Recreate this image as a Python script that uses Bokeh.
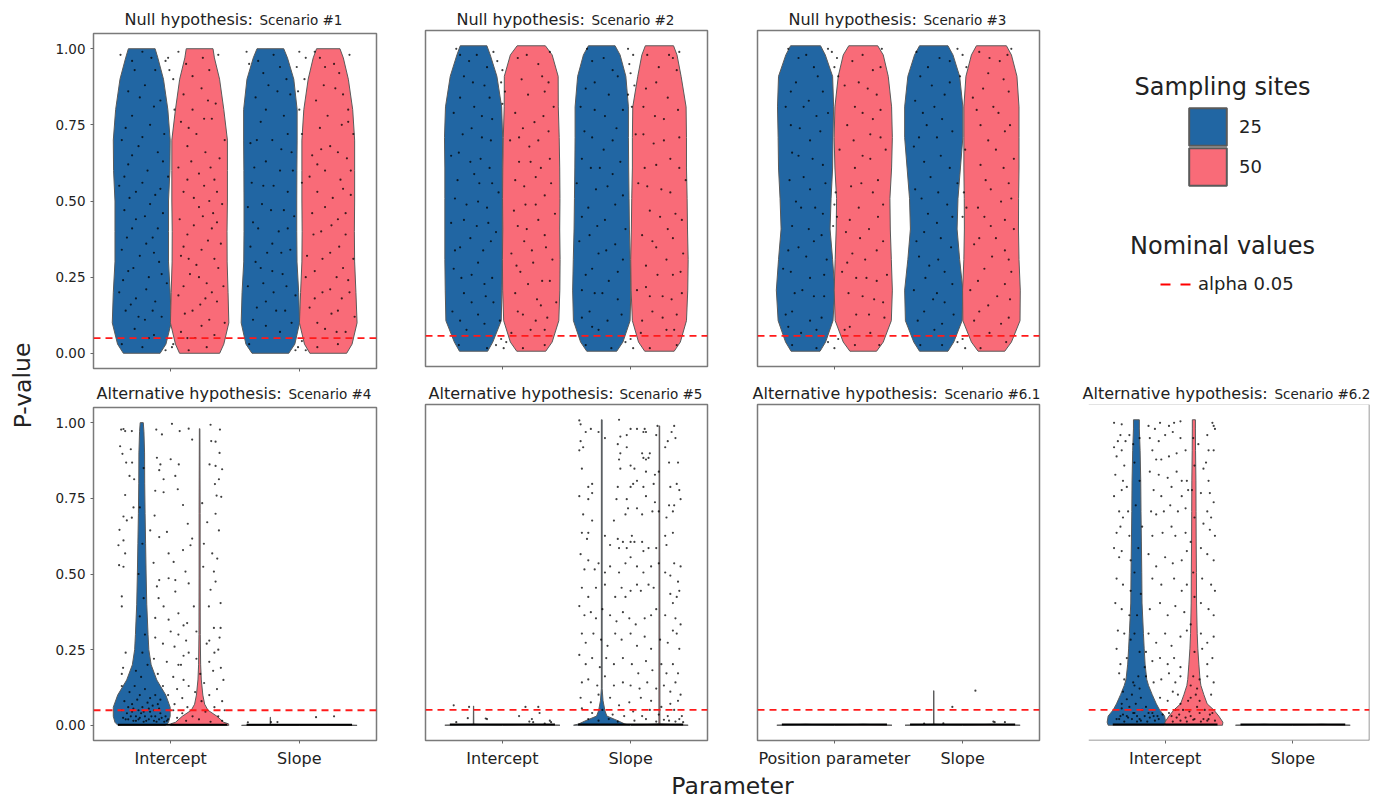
from bokeh.embed import file_html
from bokeh.resources import INLINE
from bokeh.plotting import figure
from bokeh.layouts import row, column
from bokeh.models import (Range1d, Label, Span, FixedTicker, Legend, LegendItem, ColumnDataSource)

BLUE = "#2166a3"
RED = "#f96b78"
EDGE = "#5a5a5a"
ALPHA = 0.05
TICKS_Y = [0.0, 0.25, 0.5, 0.75, 1.0]

# Probability grid shared by the null-hypothesis violins
P_NULL = [0, .03, .1, .2, .3, .4, .5, .6, .7, .8, .9, .97, 1]

S1_B1 = [.143, .188, .229, .221, .208, .208, .208, .219, .221, .203, .169, .125, .104]
S1_R1 = [.156, .188, .227, .221, .214, .213, .216, .216, .216, .188, .155, .115, .104]
S1_B2 = [.143, .190, .227, .220, .207, .205, .205, .206, .208, .208, .182, .133, .104]
S1_R2 = [.143, .185, .224, .215, .205, .203, .205, .205, .205, .190, .156, .117, .091]

S2_B1 = [.110, .150, .216, .221, .224, .224, .224, .224, .227, .219, .182, .130, .104]
S2_R1 = [.113, .163, .215, .223, .225, .222, .224, .222, .218, .211, .210, .163, .110]
S2_B2 = [.117, .165, .221, .227, .222, .216, .213, .210, .208, .208, .188, .143, .104]
S2_R2 = [.115, .163, .211, .221, .224, .219, .216, .211, .211, .208, .169, .137, .110]

S3_B1 = [.113, .156, .214, .228, .211, .191, .199, .211, .214, .219, .211, .154, .117]
S3_R1 = [.104, .156, .219, .227, .219, .211, .208, .221, .227, .221, .195, .156, .113]
S3_B2 = [.111, .156, .221, .227, .202, .182, .189, .208, .227, .227, .202, .150, .111]
S3_R2 = [.104, .156, .223, .225, .215, .211, .212, .215, .215, .215, .199, .156, .117]

# Alternative-hypothesis violins
P_ALT = [0, .01, .03, .06, .1, .15, .2, .25, .3, .4, .5, .6, .7, .8, .9, .97, 1]
S4_B1 = [.185, .208, .221, .221, .187, .117, .073, .055, .049, .039, .034, .030, .026, .023, .022, .017, .012]
P_ALT_R = [0, .005, .01, .03, .05, .07, .1, .15, .2, .3, .5, .7, .98]
S4_R1 = [.227, .225, .188, .135, .065, .039, .025, .013, .008, .005, .004, .004, .002]

P_72 = [0, .01, .03, .05, .07, .1, .13, .15, .2, .25, .3, .4, .5, .6, .7, .8, .9, .97, 1]
S7_B1 = [.221, .229, .221, .182, .156, .124, .095, .081, .068, .061, .055, .044, .042, .039, .036, .034, .029, .023, .023]
S7_R1 = [.224, .227, .195, .156, .104, .078, .055, .048, .039, .031, .026, .021, .020, .018, .017, .016, .013, .012, .012]

P_S5 = [0, .004, .014, .03, .047, .08, .12, 1]
S5_B2 = [.220, .180, .130, .040, .025, .010, .003, .003]
P_THIN = [0, .004, .98]
S5_R2 = [.224, .004, .002]

P_SPIKE_A = [0, .003, .063]
SPIKE_A = [.224, .002, .001]
P_SPIKE_B = [0, .003, .113]
SPIKE_B = [.224, .002, .001]
P_SPIKE_C = [0, .003, .027]
SPIKE_C = [.224, .002, .001]
P_FLAT = [0, .003]
FLAT = [.224, .0]

# Jittered p-values: (offset from the parameter tick, p-value)
S1_A = [(-.39,.98),(-.22,.99),(-.02,.97),(-.01,.93),(.02,.9),(-.04,.96),(.06,.99),(.37,.98),(-.3,.96),(-.12,.93),(.12,.95),(.3,.93),
(-.33,.86),(-.2,.88),(-.08,.83),(.03,.8),(.1,.85),(.24,.87),(.35,.82),(-.3,.78),(-.16,.75),(-.05,.72),(.08,.76),(.2,.72),(.32,.77),(.42,.7),
(-.38,.7),(-.25,.68),(-.1,.66),(.13,.68),(.27,.66),(.38,.64),(-.33,.62),(-.18,.6),(-.02,.58),(.06,.61),(.22,.59),(.34,.57),(-.4,.55),(-.27,.53),
(-.12,.52),(.1,.53),(.18,.51),(.3,.5),(.4,.49),(-.36,.47),(-.2,.45),(-.06,.46),(.07,.44),(.25,.45),(.36,.43),(-.3,.41),(-.14,.38),(.13,.39),
(.29,.37),(.39,.36),(-.38,.34),(-.24,.32),(-.09,.3),(.08,.32),(.2,.29),(.34,.31),(-.33,.27),(-.17,.25),(-.03,.23),(.15,.26),(.28,.23),(.41,.22),
(-.4,.2),(-.27,.18),(-.12,.17),(.06,.19),(.23,.16),(.36,.17),(-.35,.14),(-.2,.11),(-.07,.12),(.11,.13),(.3,.11),(.42,.1),(-.28,.08),(-.13,.06),
(.02,.03),(.08,.07),(.19,.05),(.34,.06),(-.38,.03),(-.22,.02),(-.04,.01),(.01,.02),(.14,.01),(.28,.02),
(-.28,.93),(-.15,.97),(.17,.91),(.25,.97),(-.24,.84),(-.13,.81),(.17,.8),(.29,.83),(-.35,.74),(-.22,.71),(.14,.74),(.26,.77),(-.3,.65),(-.06,.63),(.16,.63),(.31,.61),
(-.36,.58),(-.22,.56),(-.08,.54),(.13,.57),(.26,.55),(.36,.53),(-.32,.51),(-.16,.49),(.22,.48),(.33,.46),(-.27,.44),(-.1,.41),(.18,.42),(.32,.41),(-.34,.38),(-.19,.36),
(.1,.35),(.24,.34),(-.13,.33),(.14,.31),(.37,.28),(-.29,.28),(-.07,.26),(.22,.25),(-.37,.24),(-.19,.21),(.1,.22),(.32,.2),(-.31,.16),(-.14,.14),(.17,.14),(.27,.18),(-.25,.12),(.24,.09),(-.17,.05),(.13,.05)]
S1_C = [(-.41,.99),(-.39,.95),(-.2,.98),(.0,.99),(.05,.97),(-.02,.94),(.04,.9),(-.01,.86),(.39,.98),(.12,.99),(-.28,.92),(-.1,.9),(.2,.94),(.31,.92),
(-.34,.84),(-.17,.86),(.0,.8),(.13,.83),(.28,.87),(.38,.8),(-.3,.76),(-.12,.78),(.02,.72),(.16,.74),(.33,.75),(.42,.72),(-.38,.69),(-.21,.7),(-.06,.66),
(.1,.65),(.24,.68),(.37,.64),(-.35,.61),(-.15,.6),(.08,.58),(.2,.6),(.32,.57),(-.28,.55),(-.09,.53),(.14,.53),(.26,.51),(.4,.52),(-.4,.48),(-.22,.47),
(-.04,.45),(.1,.46),(.3,.44),(-.32,.41),(-.16,.4),(.17,.4),(.36,.39),(-.38,.35),(-.25,.33),(-.07,.34),(.06,.32),(.24,.33),(.42,.31),(-.3,.28),(-.13,.26),
(.12,.27),(.29,.25),(.38,.24),(-.4,.22),(-.2,.2),(-.03,.19),(.18,.2),(.33,.18),(-.33,.15),(-.11,.14),(.08,.15),(.25,.13),(.43,.12),(-.26,.09),(-.15,.07),
(.2,.08),(.36,.07),(-.39,.03),(-.01,.02),(.02,.04),(-.03,.01),(.14,.02),(.3,.03),(.05,.01),
(-.32,.96),(-.15,.94),(.16,.97),(.27,.95),(-.24,.88),(-.07,.85),(.19,.88),(.34,.85),(-.26,.8),(-.09,.72),(.22,.78),(.38,.76),(-.33,.7),(-.14,.67),(.17,.67),(.3,.66),
(-.26,.63),(-.05,.6),(.14,.62),(.4,.6),(-.37,.56),(-.2,.55),(.02,.56),(.34,.54),(-.29,.49),(-.12,.47),(.2,.48),(.36,.46),(-.36,.43),(-.09,.41),(.25,.42),(.11,.39),
(-.21,.36),(-.14,.33),(.31,.35),(.18,.31),(-.34,.3),(-.21,.27),(.05,.25),(.34,.28),(-.28,.23),(-.1,.22),(.24,.21),(.39,.2),(-.26,.17),(-.18,.14),(.12,.18),(.3,.14),(-.36,.11),(-.06,.1),(.14,.1),(.29,.07)]
S2_A = [(-.36,.99),(-.33,.97),(-.07,.98),(-.04,.95),(.0,.92),(-.01,.88),(.02,.85),(.0,.81),(.37,.98),(-.2,.97),(.12,.96),(.28,.94),(-.3,.9),(-.14,.87),
(.15,.89),(.33,.85),(-.38,.78),(-.22,.8),(-.08,.76),(.1,.78),(.25,.75),(.4,.8),(-.31,.71),(-.16,.7),(.06,.69),(.21,.67),(.36,.72),(-.4,.64),(-.25,.62),
(-.1,.6),(.13,.62),(.3,.6),(-.35,.56),(-.18,.55),(-.03,.52),(.17,.54),(.38,.55),(-.28,.48),(-.12,.47),(.09,.46),(.26,.48),(.41,.45),(-.4,.42),(-.2,.41),
(-.05,.39),(.19,.4),(.33,.38),(-.33,.34),(-.15,.33),(.07,.32),(.23,.33),(.39,.3),(-.38,.27),(-.24,.25),(-.08,.24),(.14,.26),(.31,.23),(-.3,.19),(-.13,.18),
(.1,.19),(.27,.17),(.42,.16),(-.39,.13),(-.19,.12),(-.02,.1),(.16,.12),(.35,.11),(-.28,.07),(.07,.06),(.22,.07),(-.34,.02),(-.05,.02),(-.01,.04),(.01,.01),
(.03,.03),(.33,.02),(-.12,.01),(.16,.01),
(-.26,.95),(-.12,.93),(.19,.97),(.31,.9),(-.23,.88),(-.1,.83),(.2,.84),(.36,.88),(-.33,.83),(-.16,.77),(.16,.73),(.32,.77),(-.24,.73),(-.09,.69),(.13,.7),(.28,.69),
(-.34,.65),(-.17,.63),(.22,.62),(.37,.63),(-.22,.58),(-.08,.55),(.26,.57),(.1,.56),(-.37,.5),(-.19,.49),(.18,.48),(.33,.51),(-.3,.43),(-.11,.42),(.12,.41),(.28,.43),
(-.25,.37),(-.09,.36),(.17,.36),(.34,.34),(-.37,.33),(-.19,.29),(.24,.29),(.11,.28),(-.32,.24),(-.14,.22),(.2,.22),(.37,.23),(-.24,.16),(-.07,.16),(.3,.15),(.12,.13),(-.33,.1),(-.14,.09),(.26,.1),(.33,.07)]
S2_C = [(-.34,.99),(-.02,.99),(.02,.97),(-.01,.94),(.0,.91),(.03,.87),(-.02,.84),(.01,.8),(.38,.98),(.33,.96),(-.21,.96),(.13,.97),(-.28,.88),(-.1,.9),
(.2,.88),(.36,.92),(-.39,.8),(-.2,.77),(-.06,.79),(.1,.8),(.26,.76),(-.3,.7),(-.14,.69),(.04,.71),(.18,.68),(.38,.7),(-.38,.63),(-.24,.6),(-.08,.62),(.11,.6),
(.31,.63),(-.42,.55),(-.18,.54),(.06,.55),(.24,.53),(.43,.56),(-.33,.47),(-.12,.48),(.15,.46),(.35,.45),(-.26,.41),(-.04,.4),(.09,.38),(.29,.4),(-.4,.36),
(-.19,.33),(.2,.34),(.41,.32),(-.3,.27),(-.1,.26),(.12,.28),(.33,.25),(-.38,.2),(-.22,.19),(.05,.2),(.25,.18),(.4,.19),(-.32,.13),(-.07,.12),(.17,.13),(.36,.12),
(-.25,.07),(.08,.06),(.28,.07),(-.04,.03),(.02,.01),(.0,.04),(-.35,.02),(.36,.02),(.15,.01),(-.15,.01),
(-.3,.95),(-.14,.92),(.22,.93),(.3,.97),(-.35,.86),(-.17,.84),(.12,.86),(.29,.83),(-.28,.79),(-.11,.73),(.19,.77),(.37,.79),(-.36,.72),(-.21,.66),(.26,.69),(.1,.71),
(-.31,.6),(-.14,.58),(.2,.61),(.38,.6),(-.27,.53),(-.06,.51),(.13,.54),(.31,.52),(-.38,.44),(-.2,.43),(.23,.44),(.4,.43),(-.32,.38),(-.12,.35),(.17,.36),(.33,.37),
(-.25,.32),(-.06,.3),(.28,.3),(.12,.21),(-.35,.25),(-.17,.23),(.21,.25),(.39,.26),(-.28,.19),(-.1,.17),(.32,.17),(.15,.18),(-.38,.11),(-.18,.1),(.25,.11),(.09,.1),(-.3,.08),(.34,.07)]
S3_A = [(-.36,.99),(-.02,.98),(.02,.96),(.0,.93),(.03,.9),(-.05,.99),(.37,.99),(-.22,.97),(.14,.95),(.3,.92),(-.3,.88),(-.13,.9),(.08,.87),(.26,.86),
(-.38,.8),(-.2,.82),(-.05,.78),(.16,.8),(.36,.79),(-.27,.73),(-.11,.72),(.1,.74),(.28,.71),(-.33,.65),(-.17,.63),(.04,.66),(.22,.64),(.4,.66),(-.24,.57),
(-.07,.55),(.01,.52),(.0,.48),(.02,.44),(-.01,.41),(.13,.54),(.34,.56),(-.3,.49),(-.15,.47),(.19,.47),(.38,.48),(-.2,.4),(-.1,.38),(.09,.39),(.27,.4),(-.36,.33),
(-.22,.31),(.14,.32),(.33,.33),(-.4,.27),(-.08,.25),(.06,.26),(.25,.24),(.41,.25),(-.31,.19),(-.16,.18),(.11,.19),(.31,.17),(-.38,.12),(-.1,.11),(.17,.12),(.39,.11),
(-.26,.06),(.08,.07),(.28,.06),(-.33,.02),(-.05,.03),(.0,.01),(.03,.04),(.35,.02),(-.14,.01),(.16,.02),
(-.28,.96),(-.16,.93),(.22,.97),(.36,.93),(-.34,.85),(-.09,.85),(.19,.88),(.33,.84),(-.24,.8),(-.14,.77),(.22,.78),(.3,.76),(-.34,.74),(-.19,.69),(.15,.69),(.36,.7),
(-.28,.64),(-.09,.61),(.28,.63),(.16,.6),(-.35,.56),(-.19,.53),(.21,.55),(.3,.52),(-.26,.47),(-.09,.45),(.12,.43),(.34,.44),(-.33,.41),(-.16,.36),(.2,.37),(.38,.36),
(-.28,.34),(-.06,.3),(.24,.3),(.1,.29),(-.34,.26),(-.19,.24),(.17,.24),(.33,.23),(-.25,.2),(-.08,.18),(.22,.18),(.38,.16),(-.33,.13),(-.19,.1),(.27,.12),(.12,.08),(-.36,.08),(-.14,.07)]
S3_C = [(-.36,.98),(-.04,.99),(.0,.97),(.03,.93),(-.02,.9),(.38,.99),(.35,.97),(-.18,.96),(.13,.98),(.29,.95),(-.33,.9),(-.1,.88),(.2,.91),(-.37,.82),(-.22,.8),
(.08,.83),(.24,.8),(-.28,.74),(-.08,.72),(.14,.74),(.33,.72),(-.38,.67),(-.17,.64),(.02,.66),(.26,.66),(.4,.63),(-.25,.57),(-.04,.55),(.01,.52),(.03,.47),(.0,.44),
(.18,.56),(.36,.55),(-.32,.5),(-.12,.48),(.12,.47),(.3,.49),(-.2,.42),(.22,.41),(.4,.4),(-.36,.36),(-.09,.34),(.09,.35),(.33,.33),(-.26,.28),(-.14,.26),(.17,.27),
(.38,.26),(-.38,.2),(-.2,.19),(.06,.2),(.27,.18),(-.3,.13),(-.07,.12),(.13,.13),(.36,.11),(-.22,.07),(.21,.06),(-.04,.03),(.02,.01),(.0,.04),(-.33,.02),(.34,.03),(.14,.01),(-.16,.02),
(-.27,.93),(-.1,.95),(.21,.96),(.32,.89),(-.24,.87),(-.14,.84),(.16,.86),(.36,.85),(-.31,.78),(-.16,.76),(.28,.78),(.11,.79),(-.34,.7),(-.2,.7),(.2,.69),(.37,.74),
(-.3,.62),(-.1,.6),(.14,.61),(.32,.6),(-.37,.53),(-.19,.52),(.22,.53),(.38,.5),(-.27,.45),(-.08,.44),(.17,.44),(.33,.43),(-.3,.39),(-.17,.37),(.26,.37),(.13,.37),
(-.34,.31),(-.19,.3),(.23,.31),(.36,.3),(-.29,.24),(-.08,.22),(.12,.23),(.33,.22),(-.23,.17),(-.14,.16),(.2,.15),(.37,.17),(-.35,.1),(-.16,.09),(.3,.09),(.09,.1)]

S4_A = [(-.385,.977),(-.367,.979),(-.354,.972),(-.302,.972),(-.112,.977),(-.068,.961),(.01,.996),(.07,.972),(.14,.98),(.31,.993),(.383,.977),(.167,.944),(.315,.939),(.349,.937),
(-.393,.922),(-.31,.912),(-.375,.897),(.38,.9),(-.107,.884),(0,.879),(-.08,.862),(.063,.862),(-.346,.868),(-.3,.868),(.4,.846),(.349,.857),(.302,.862),(-.089,.843),(-.32,.824),
(-.284,.813),(-.055,.813),(.036,.824),(.375,.813),(.344,.797),(-.12,.775),(.055,.78),(-.055,.77),(-.354,.761),(.357,.759),(.393,.755),(.245,.734),(-.289,.72),(.096,.728),(-.125,.693),
(-.367,.69),(-.302,.686),(-.341,.677),(.133,.666),(.284,.671),(.349,.699),(-.398,.646),(.375,.644),(-.159,.644),(-.029,.639),(-.089,.622),(-.367,.611),(.167,.617),(.096,.579),(.154,.595),
(.258,.6),(-.016,.568),(-.406,.595),(.023,.54),(-.133,.537),(-.354,.568),(.323,.568),(.362,.551),(-.401,.529),(-.367,.524),(.253,.524),(.336,.508),(.115,.508),(-.016,.486),(.036,.48),
(-.089,.48),(.14,.469),(.349,.475),(-.107,.459),(.036,.442),(.31,.448),(-.38,.426),(-.094,.42),(.388,.404),(.297,.393),(.18,.393),(-.38,.393),(-.055,.393),(-.12,.355),(-.016,.349),
(.128,.338),(.336,.322),(.388,.322),(-.12,.29),(.0,.31),(.06,.3),(.2,.31),(-.06,.27),(.03,.26),(.12,.28),(.28,.27),(.37,.25),(-.35,.24),(-.37,.19),(-.13,.22),(-.03,.21),(.08,.2),(.2,.22),
(.3,.21),(.39,.19),(-.38,.17),(-.1,.17),(.02,.16),(.1,.15),(.23,.17),(.33,.18),(.41,.15),(-.06,.13),(.05,.12),(.14,.13),(.26,.14),(.36,.12),(-.02,.1),(.09,.09),(.19,.11),(.3,.1),(.4,.08),
(-.08,.085),(.03,.07),(.13,.06),(.24,.08),(.34,.06),(.42,.05),(.02,.05),(.09,.04),(.17,.03),(.27,.045),(.37,.03),(.05,.025),(.12,.015),(.22,.02),(.31,.012),(.4,.015),
(-.38,.13),(-.32,.11),(-.28,.13),(-.24,.1),(-.2,.12),(-.16,.09),(-.12,.1),(-.36,.08),(-.3,.07),(-.26,.085),(-.22,.06),(-.18,.075),(-.14,.065),(-.1,.07),(-.38,.05),(-.34,.04),(-.3,.045),
(-.27,.03),(-.23,.04),(-.2,.03),(-.16,.045),(-.12,.03),(-.08,.04),(-.04,.03),(-.37,.025),(-.33,.02),(-.29,.015),(-.25,.02),(-.21,.012),(-.17,.02),(-.13,.015),(-.09,.02),(-.05,.012),(-.02,.02),
(-.35,.02),(-.31,.03),(-.27,.015),(-.24,.025),(-.19,.015),(-.15,.03),(-.11,.012),(-.07,.025),(-.03,.015),(-.33,.06),(-.29,.055),(-.25,.05),(-.21,.045),(-.17,.055),(-.13,.05),(-.09,.055),
(-.23,.16),(-.18,.2),(-.22,.24),(-.27,.18),(-.2,.3),(-.24,.36),(-.21,.42),(-.25,.5),(-.22,.6),(-.24,.72),(-.21,.85),(.14,.24),(.06,.2),(.1,.23),(.06,.37),(.1,.33),(.3,.28),(.34,.24),(.38,.29)]
S4_C = [(-.4,.01),(-.22,.011),(-.17,.011),(.13,.027),(.27,.03)]

S5_A = [(-.38,.065),(-.26,.06),(-.27,.023),(-.36,.01),(-.12,.02),(-.13,.022),(.18,.06),(.28,.06),(.13,.03),(.23,.02),(.29,.04),(.24,.01),(.37,.015),(.38,.01),(.33,.005),(.21,.012)]
S5_C = [(-.4,.998),(-.09,1.0),(-.39,.985),(-.35,.96),(-.31,.97),(-.25,.96),(-.2,.94),(-.39,.93),(-.37,.91),(-.08,.945),(-.03,.95),(.0,.97),(-.03,.91),(.05,.97),(.1,.96),(.11,.97),(.12,.96),
(.21,.98),(.34,.98),(.32,.96),(.29,.93),(.2,.95),(.27,.91),(.35,.94),(-.1,.92),(-.4,.9),(-.09,.87),(-.08,.89),(.15,.89),(.14,.875),(.12,.87),(.1,.875),(.09,.89),(.3,.86),(.37,.86),(-.38,.84),
(-.08,.84),(.03,.84),(.0,.85),(.05,.8),(.12,.83),(.19,.82),(.22,.83),(-.33,.78),(-.3,.79),(-.1,.78),(.0,.78),(.02,.79),(.1,.78),(.18,.79),(.31,.78),(.36,.79),(.38,.77),(-.4,.75),(-.33,.74),
(-.3,.76),(-.11,.74),(-.03,.74),(.12,.75),(.19,.73),(.3,.72),(.39,.74),(.34,.72),(-.37,.69),(-.3,.67),(-.13,.67),(-.04,.69),(-.02,.71),(.05,.71),(.09,.69),(.17,.7),(.22,.7),(.28,.68),(.33,.7),
(-.38,.63),(-.34,.61),(-.33,.63),(-.2,.62),(-.16,.59),(-.1,.61),(-.06,.6),(-.09,.58),(-.03,.58),(.0,.6),(.01,.62),(.03,.6),(.09,.6),(.1,.57),(.14,.58),(.2,.58),(.27,.62),(.28,.59),(.33,.63),
(-.39,.56),(-.36,.51),(-.33,.54),(-.28,.51),(-.25,.53),(-.2,.5),(-.16,.52),(-.09,.5),(-.04,.53),(.0,.55),(.05,.52),(.1,.5),(.16,.52),(.22,.53),(.27,.5),(.31,.49),(.34,.53),(.37,.47),(.39,.52),
(-.38,.45),(-.33,.42),(-.27,.45),(-.2,.46),(-.12,.42),(-.07,.45),(-.04,.42),(.0,.44),(.05,.46),(.08,.44),(.14,.46),(.18,.45),(.31,.43),(.33,.4),(.36,.42),(.38,.44),(-.4,.39),(-.36,.36),(-.31,.37),
(-.27,.35),(-.22,.38),(-.16,.36),(-.11,.34),(-.06,.37),(-.01,.35),(.04,.33),(.11,.35),(.16,.36),(.2,.38),(.27,.36),(.33,.31),(.35,.35),(.39,.33),(-.38,.3),(-.35,.27),(-.29,.3),(-.23,.28),(-.18,.26),
(-.12,.3),(-.07,.28),(.0,.3),(.05,.26),(.11,.29),(.16,.25),(.23,.28),(.29,.27),(.36,.3),(.38,.25),(-.4,.23),(-.35,.2),(-.3,.22),(-.24,.19),(-.19,.22),(-.13,.2),(-.06,.22),(.01,.2),(.06,.17),(.12,.21),
(.17,.18),(.24,.2),(.28,.17),(.33,.2),(.37,.17),(-.38,.14),(-.33,.15),(-.26,.13),(-.2,.16),(-.13,.13),(-.06,.14),(.0,.13),(.07,.12),(.13,.14),(.2,.12),(.26,.13),(.31,.11),(.35,.14),(.39,.1),
(-.39,.09),(-.31,.075),(-.25,.1),(-.16,.09),(-.09,.065),(-.01,.075),(.08,.09),(.16,.08),(.24,.06),(.31,.07),(.37,.08),(-.38,.055),(-.3,.04),(-.22,.05),(-.14,.035),(-.05,.03),(.02,.045),(.09,.03),(.15,.05),
(.22,.035),(.29,.03),(.34,.05),(.4,.03),(-.33,.02),(-.25,.015),(-.17,.02),(-.1,.012),(.03,.015),(.12,.02),(.2,.012),(.26,.018),(.3,.015),(.35,.012),(.38,.02),(.41,.01)]

S6_C = [(.1,.113),(-.08,.06),(.25,.01),(.24,.012),(.33,.01),(-.3,.005),(-.15,.006)]

S7_A = [(-.4,.99),(-.34,.985),(-.35,.95),(-.37,.93),(-.31,.93),(-.28,.95),(-.4,.91),(-.34,.9),(-.25,.92),(-.13,.98),(-.08,.97),(-.04,.99),(.03,.98),(.07,.99),(.12,.995),(.37,.99),(.39,.97),(.38,.98),(.33,.95),
(-.12,.94),(-.05,.93),(.0,.95),(.06,.96),(.12,.94),(.26,.92),(.34,.9),(.38,.9),(-.38,.88),(-.32,.85),(-.1,.9),(-.07,.87),(-.03,.87),(.03,.88),(.09,.89),(.16,.9),(.32,.86),(-.39,.82),(-.33,.8),(-.3,.78),
(-.12,.83),(-.05,.82),(.02,.81),(.09,.83),(.13,.8),(.17,.8),(.3,.84),(.34,.8),(-.4,.75),(-.34,.77),(-.09,.77),(-.03,.75),(.05,.78),(.13,.75),(.18,.77),(.28,.76),(.35,.76),(.38,.73),(-.36,.7),(-.33,.68),
(-.29,.7),(-.11,.7),(-.07,.69),(-.01,.7),(.04,.72),(.1,.7),(.16,.71),(.33,.7),(.36,.68),(-.38,.63),(-.35,.65),(-.28,.62),(-.1,.62),(-.02,.63),(.05,.65),(.08,.62),(.16,.63),(.3,.66),(.35,.64),(.39,.62),
(-.4,.58),(-.36,.55),(-.34,.57),(-.27,.54),(-.13,.56),(-.07,.52),(.0,.55),(.06,.53),(.13,.54),(.17,.57),(.28,.58),(.33,.56),(.38,.54),(-.38,.48),(-.33,.46),(-.27,.44),(-.1,.48),(-.03,.46),(.07,.48),(.13,.44),
(.17,.46),(.29,.48),(.36,.46),(.39,.44),(-.39,.4),(-.34,.38),(-.28,.36),(-.12,.38),(-.04,.4),(.02,.36),(.08,.39),(.15,.37),(.28,.4),(.34,.38),(.38,.36),(-.37,.31),(-.32,.3),(-.27,.28),(-.13,.3),(-.07,.27),
(.0,.3),(.05,.26),(.12,.29),(.17,.31),(.28,.3),(.33,.27),(.38,.29),(-.38,.25),(-.35,.2),(-.3,.22),(-.15,.24),(-.1,.21),(-.04,.22),(.02,.2),(.07,.22),(.12,.19),(.29,.25),(.33,.2),(.37,.22),(-.36,.17),(-.32,.15),
(-.25,.14),(-.15,.16),(-.09,.14),(-.03,.15),(.03,.17),(.08,.14),(.12,.16),(.27,.15),(.33,.16),(.38,.14),(-.33,.11),(-.04,.09),(.02,.08),(.06,.11),(.1,.1),(.36,.1),
(-.34,.07),(-.3,.085),(-.26,.1),(-.2,.12),(-.16,.19),(-.2,.24),(-.24,.3),(-.22,.36),(-.19,.43),(-.24,.5),(-.21,.58),(-.18,.65),(-.23,.72),(-.2,.8),(-.24,.86),(-.2,.94),(-.24,.04),(-.3,.03),(-.35,.03),(-.2,.02),
(-.15,.06),(-.1,.04),(-.06,.03),(-.12,.025),(-.18,.05),(-.26,.02),(-.32,.012),(-.38,.02),(-.14,.012),(-.08,.015),(-.22,.012),(.03,.04),(.09,.025),(.14,.05),(.2,.03),(.25,.06),(.3,.02),(.35,.035),(.39,.015),(.06,.012),
(.12,.015),(.17,.012),(.22,.018),(.28,.012),(.33,.015),(.2,.09),(.22,.16),(.23,.24),(.2,.33),(.23,.42),(.22,.5),(.2,.6),(.23,.68),(.21,.77),(.23,.85),(.22,.94),
(-.36,.02),(-.33,.035),(-.29,.025),(-.25,.04),(-.22,.03),(-.19,.015),(-.16,.03),(-.13,.04),(-.09,.03),(-.05,.02),(-.02,.035),(-.34,.055),(-.28,.06),(-.23,.07),(-.19,.09),(-.21,.16),(-.24,.13),
(.05,.03),(.08,.05),(.11,.035),(.16,.025),(.19,.045),(.23,.02),(.27,.04),(.31,.05),(.34,.02),(.37,.04),(.12,.07),(.18,.08),(.24,.1),(.27,.08),(.2,.13),(.25,.12)]

# Stacks of p-values at zero, drawn as a solid run: (start offset, end offset, p-value)
ZERO_P4 = [(-.41, .44, .002), (-.41, .41, .002)]
ZERO_P5 = [(-.41, .41, .002), (-.41, .41, .002)]
ZERO_P6 = [(-.41, .41, .002), (-.41, .41, .002)]
ZERO_P7 = [(-.41, .41, .002), (-.41, .41, .002)]

TICK_INTERCEPT = ["Intercept", "Slope"]
TICK_POSITION = ["Position parameter", "Slope"]
TITLE_NULL = "Null hypothesis:"
TITLE_ALT = "Alternative hypothesis:"
FONT = "DejaVu Sans"
TEXT = "#222222"


def panel(w, h, left, right, top, bottom, y_labels, x_labels):
    p = figure(width=w, height=h, x_range=Range1d(-.6, 1.6), y_range=Range1d(-.05, 1.05),
               output_backend="svg", toolbar_location=None, min_border_left=left, min_border_right=right,
               min_border_top=top, min_border_bottom=bottom)
    p.grid.visible = False
    p.outline_line_color = "#7a7a7a"
    p.outline_line_width = 1.5
    p.xaxis.ticker = FixedTicker(ticks=[0, 1])
    p.xaxis.major_label_overrides = {0: x_labels[0], 1: x_labels[1]} if x_labels else {0: "", 1: ""}
    p.xaxis.major_label_text_font = FONT
    p.xaxis.major_label_text_font_size = "16px"
    p.xaxis.major_label_text_color = TEXT
    p.xaxis.major_label_standoff = 5
    p.yaxis.ticker = FixedTicker(ticks=TICKS_Y)
    p.yaxis.major_label_overrides = {t: f"{t:.2f}" for t in TICKS_Y}
    p.yaxis.major_label_text_font = FONT
    p.yaxis.major_label_text_font_size = "13.5px"
    p.yaxis.major_label_text_color = TEXT
    p.yaxis.major_label_standoff = 5
    for ax in (p.xaxis, p.yaxis):
        ax.axis_line_color = None
        ax.minor_tick_line_color = None
        ax.major_tick_line_color = "#666666"
        ax.major_tick_in = 0
        ax.major_tick_out = 3
    if not y_labels:
        p.yaxis.visible = False
    return p


def violin(p, center, ps, hw, color):
    xs = [center - v for v in hw] + [center + v for v in reversed(hw)]
    ys = list(ps) + list(reversed(ps))
    p.patch(xs, ys, fill_color=color, line_color=EDGE, line_width=1)


def dots(p, tick, pts):
    p.scatter([tick + a for a, _ in pts], [b for _, b in pts], size=2.2, color="black", alpha=.75, line_color=None)


def zero_run(p, runs):
    for tick, (a, b, y) in enumerate(runs):
        p.segment([tick + a], [y], [tick + b], [y], line_color="black", line_width=2)


def alpha_line(p):
    p.add_layout(Span(location=ALPHA, dimension="width", line_color="#ff1a1a", line_width=1.8, line_dash="7 5"))


def strip(w, h):
    s = figure(width=w, height=h, x_range=Range1d(0, 1), y_range=Range1d(0, 1), output_backend="svg",
               toolbar_location=None, min_border=0, outline_line_color=None)
    s.axis.visible = False
    s.grid.visible = False
    return s


def titles(strip_fig, h, entries, y):
    for main, sub, main_x, sub_x in entries:
        for text, x, size in ((main, main_x, "16px"), (sub, sub_x, "13.5px")):
            strip_fig.add_layout(Label(x=x - 38, y=h - y, x_units="screen", y_units="screen", text=text,
                                       text_font=FONT, text_font_size=size, text_color=TEXT, text_baseline="middle"))


# ---- titles
top_titles = strip(1353, 29)
titles(top_titles, 29, [(TITLE_NULL, "Scenario #1", 124, 259), (TITLE_NULL, "Scenario #2", 456, 591),
                        (TITLE_NULL, "Scenario #3", 788, 923)], 19)
low_titles = strip(1353, 23)
titles(low_titles, 23, [(TITLE_ALT, "Scenario #4", 96, 288), (TITLE_ALT, "Scenario #5", 428, 619),
                        (TITLE_ALT, "Scenario #6.1", 752, 944), (TITLE_ALT, "Scenario #6.2", 1082, 1274)], 393 - 380)

# ---- top row
p1 = panel(362, 351, 55, 24, 4, 12, True, None)
violin(p1, -.225, P_NULL, S1_B1, BLUE); violin(p1, .225, P_NULL, S1_R1, RED)
violin(p1, .775, P_NULL, S1_B2, BLUE); violin(p1, 1.225, P_NULL, S1_R2, RED)
dots(p1, 0, S1_A); dots(p1, 1, S1_C); alpha_line(p1)

p2 = panel(332, 351, 25, 25, 1, 14, False, None)
violin(p2, -.225, P_NULL, S2_B1, BLUE); violin(p2, .225, P_NULL, S2_R1, RED)
violin(p2, .775, P_NULL, S2_B2, BLUE); violin(p2, 1.225, P_NULL, S2_R2, RED)
dots(p2, 0, S2_A); dots(p2, 1, S2_C); alpha_line(p2)

p3 = panel(332, 351, 25, 25, 1, 14, False, None)
violin(p3, -.225, P_NULL, S3_B1, BLUE); violin(p3, .225, P_NULL, S3_R1, RED)
violin(p3, .775, P_NULL, S3_B2, BLUE); violin(p3, 1.225, P_NULL, S3_R2, RED)
dots(p3, 0, S3_A); dots(p3, 1, S3_C); alpha_line(p3)

# ---- legends
lg = strip(319, 351)
off_line = ColumnDataSource(dict(x=[5, 6], y=[5, 6]))
q25 = lg.patch(x=[5, 6, 6], y=[5, 5, 6], fill_color=BLUE, line_color=EDGE, line_width=2)
q50 = lg.patch(x=[5, 6, 6], y=[5, 5, 6], fill_color=RED, line_color=EDGE, line_width=2)
dash = lg.line(x="x", y="y", source=off_line, line_color="#ff0000", line_width=2, line_dash="10 10")
common = dict(padding=0, margin=0, label_text_font=FONT, label_text_font_size="18px", label_text_color=TEXT,
              background_fill_alpha=0, border_line_color=None)
lg.add_layout(Legend(items=[LegendItem(label="25", renderers=[q25])], location=(120, 230), glyph_width=47,
                     glyph_height=47, label_standoff=8, **common), "center")
lg.add_layout(Legend(items=[LegendItem(label="50", renderers=[q50])], location=(120, 190), glyph_width=47,
                     glyph_height=47, label_standoff=8, **common), "center")
lg.add_layout(Legend(items=[LegendItem(label="alpha 0.05", renderers=[dash])], location=(96, 86), glyph_width=31,
                     glyph_height=16, label_standoff=7, **common), "center")
for y_px in (127.5, 167):
    lg.scatter([(1208 - 1064) / 319], [(380 - y_px) / 351], size=3.5, color="#222222", alpha=.8, line_color=None,
               level="overlay")
for text, y in (("Sampling sites", 86), ("Nominal values", 245)):
    lg.add_layout(Label(x=158, y=380 - y, x_units="screen", y_units="screen", text=text, text_font=FONT,
                        text_font_size="24px", text_color=TEXT, text_align="center", text_baseline="middle"))

# ---- bottom row
p4 = panel(362, 367, 55, 24, 4, 28, True, TICK_INTERCEPT)
violin(p4, -.225, P_ALT, S4_B1, BLUE); violin(p4, .225, P_ALT_R, S4_R1, RED)
violin(p4, .775, P_SPIKE_C, SPIKE_C, BLUE); violin(p4, 1.225, P_FLAT, FLAT, RED)
dots(p4, 0, S4_A); dots(p4, 1, S4_C); zero_run(p4, ZERO_P4); alpha_line(p4)

p5 = panel(332, 367, 25, 25, 1, 30, False, TICK_INTERCEPT)
violin(p5, -.225, P_SPIKE_A, SPIKE_A, BLUE); violin(p5, .225, P_FLAT, FLAT, RED)
violin(p5, .775, P_S5, S5_B2, BLUE); violin(p5, 1.225, P_THIN, S5_R2, RED)
dots(p5, 0, S5_A); dots(p5, 1, S5_C); zero_run(p5, ZERO_P5); alpha_line(p5)

p6 = panel(332, 367, 25, 25, 1, 30, False, TICK_POSITION)
violin(p6, -.225, P_FLAT, FLAT, BLUE); violin(p6, .225, P_FLAT, FLAT, RED)
violin(p6, .775, P_SPIKE_B, SPIKE_B, BLUE); violin(p6, 1.225, P_FLAT, FLAT, RED)
dots(p6, 1, S6_C); zero_run(p6, ZERO_P6); alpha_line(p6)

p7 = panel(319, 367, 24, 14, 1, 30, False, TICK_INTERCEPT)
p7.outline_line_color = None
p7.add_layout(Span(location=1.05, dimension="width", line_color="#c8c8c8", line_width=1))
p7.add_layout(Span(location=1.6, dimension="height", line_color="#7a7a7a", line_width=1.5))
p7.add_layout(Span(location=-.05, dimension="width", line_color="#7a7a7a", line_width=1.5))
violin(p7, -.225, P_72, S7_B1, BLUE); violin(p7, .225, P_72, S7_R1, RED)
violin(p7, .775, P_FLAT, FLAT, BLUE); violin(p7, 1.225, P_FLAT, FLAT, RED)
dots(p7, 0, S7_A); zero_run(p7, ZERO_P7); alpha_line(p7)

# ---- shared axis captions
left_cap = strip(38, 770)
left_cap.add_layout(Label(x=22, y=770 - 385, x_units="screen", y_units="screen", text="P-value", text_font=FONT,
                          text_font_size="23.5px", text_color=TEXT, text_align="center",
                          text_baseline="middle", angle=1.5708))
caption = strip(1391, 28)
caption.add_layout(Label(x=732, y=13, x_units="screen", y_units="screen", text="Parameter", text_font=FONT,
                         text_font_size="23.5px", text_color=TEXT, text_align="center", text_baseline="middle"))

panels = column(top_titles,
                row(column(p1), column(p2), column(p3), column(lg), spacing=0),
                low_titles,
                row(column(p4), column(p5), column(p6), column(p7), spacing=0), spacing=0)
layout = column(row(left_cap, panels, spacing=0), caption, spacing=0)
open("out.html", "w").write(file_html(layout, INLINE))
